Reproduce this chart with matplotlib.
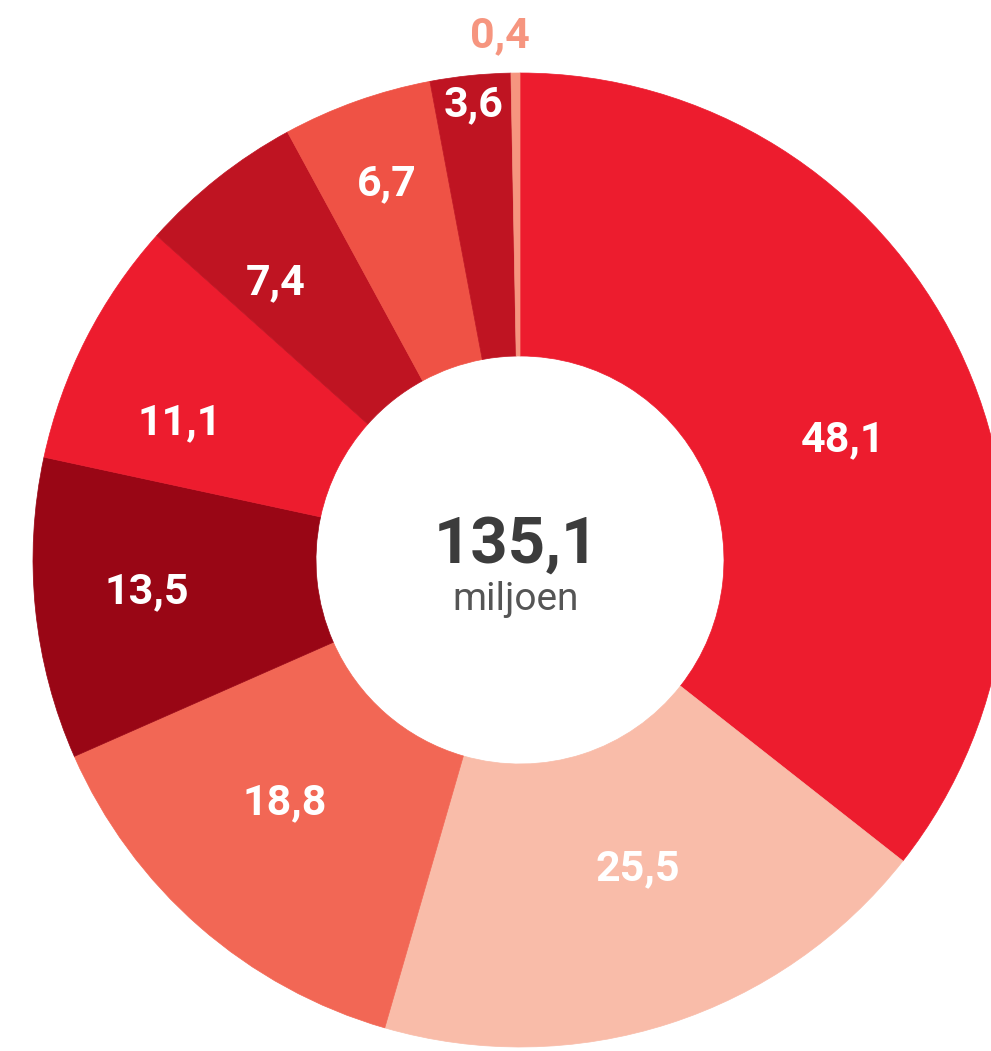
import matplotlib.pyplot as plt
import numpy as np

# miljoen, clockwise from the top
waarden = [48.1, 25.5, 18.8, 13.5, 11.1, 7.4, 6.7, 3.6, 0.4]
labels = ["48,1", "25,5", "18,8", "13,5", "11,1", "7,4", "6,7", "3,6", "0,4"]
totaal = "135,1"

kleuren = ["#ED1C2E", "#F9BCA9", "#F26755", "#990615", "#ED1C2E",
           "#BF1422", "#EF5245", "#BF1422", "#F6957F"]
# label placement (radius in px, angle nudge in degrees)
label_r = [345, 330, 338, 374, 367, 370, 399, 458, 525]
label_da = [5.5, -3, 3, 1, -5, -3, 0, 0, -1.7]

fig = plt.figure(figsize=(9.91, 10.51), dpi=100)
ax = fig.add_axes([0, 0, 1, 1])

cx, cy, R = 520, 1051 - 560, 487
wedges, _ = ax.pie(waarden, colors=kleuren, startangle=90, counterclock=False,
                   center=(cx, cy), radius=R, frame=True,
                   wedgeprops=dict(width=R - 204))
for w, c in zip(wedges, kleuren):
    w.set_edgecolor(c)
    w.set_linewidth(0.5)
ax.set_xlim(0, 991)
ax.set_ylim(0, 1051)
ax.set_aspect("equal")
ax.axis("off")

cum = np.cumsum(waarden) - np.array(waarden) / 2
tot = sum(waarden)
for i, (lab, m) in enumerate(zip(labels, cum)):
    a = np.deg2rad(90 - 360 * m / tot - label_da[i])
    x = cx + label_r[i] * np.cos(a)
    y = cy + label_r[i] * np.sin(a)
    col = "white" if i < len(labels) - 1 else kleuren[-1]
    ax.text(x, y, lab, ha="center", va="center", color=col,
            fontsize=31, fontweight="bold", family="Roboto")

ax.text(516, 1051 - 545, totaal, ha="center", va="center", color="#3C3C3C",
        fontsize=47, fontweight="bold", family="Roboto")
ax.text(516, 1051 - 600, "miljoen", ha="center", va="center", color="#555555",
        fontsize=28, family="Roboto")

fig.savefig("out.png", dpi=100)
